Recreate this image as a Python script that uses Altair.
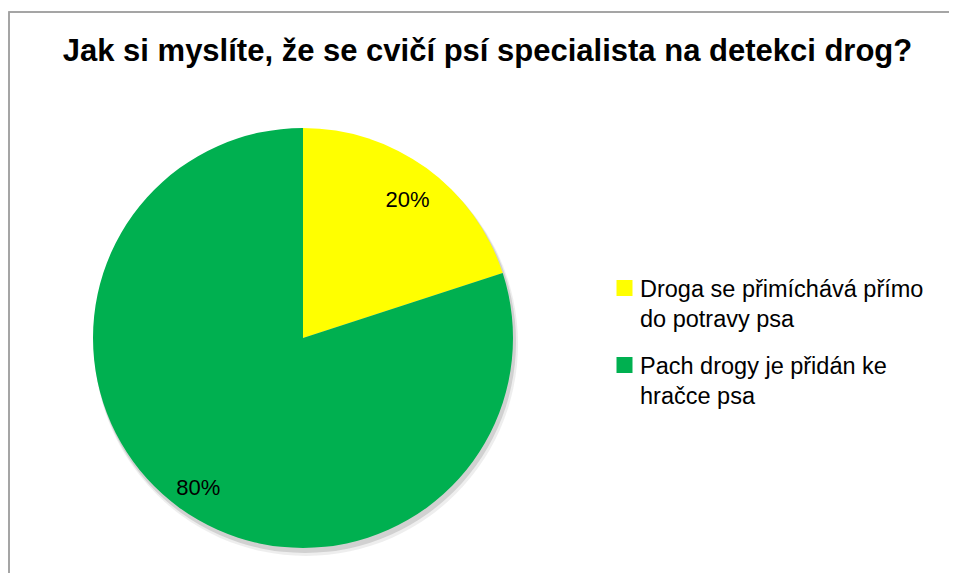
import altair as alt
import pandas as pd

title_text = "Jak si myslíte, že se cvičí psí specialista na detekci drog?"
categories = ["Droga se přimíchává přímo\ndo potravy psa", "Pach drogy je přidán ke\nhračce psa"]
values = [20, 80]
labels = ["20%", "80%"]
colors = ["#FFFF00", "#00B050"]

df = pd.DataFrame({"category": categories, "value": values, "label": labels, "idx": [0, 1]})
tdf = pd.DataFrame({"title": [title_text]})

W, H = 941, 475
CX, CY, R = 295, 240, 210

color_scale = alt.Scale(domain=categories, range=colors)

base = alt.Chart(df)

border = base.mark_rect(fill=None, stroke="#a0a0a0", strokeWidth=1.5).encode(
    x=alt.value(1), x2=alt.value(1000), y=alt.value(-86), y2=alt.value(700)
)

title = alt.Chart(tdf).mark_text(fontSize=31, font="Liberation Sans", fontWeight="bold",
                                 align="center", baseline="alphabetic", color="#000000").encode(
    x=alt.value(479.5), y=alt.value(-37), text="title:N"
)

shadow2 = base.mark_arc(radius=R + 2, color="#bbbbbb", opacity=0.25).encode(
    theta=alt.Theta("value:Q", stack=True),
    order=alt.Order("idx:Q"),
    x=alt.value(CX + 3), y=alt.value(CY + 6),
)
shadow = base.mark_arc(radius=R + 1, color="#9a9a9a", opacity=0.35).encode(
    theta=alt.Theta("value:Q", stack=True),
    order=alt.Order("idx:Q"),
    x=alt.value(CX + 2), y=alt.value(CY + 4),
)

pie = base.mark_arc(radius=R).encode(
    theta=alt.Theta("value:Q", stack=True),
    order=alt.Order("idx:Q"),
    color=alt.Color("category:N", scale=color_scale, legend=None),
    x=alt.value(CX), y=alt.value(CY),
)

pct = base.mark_text(radius=178, dy=6, fontSize=22, font="Liberation Sans", color="#000000").encode(
    theta=alt.Theta("value:Q", stack=True),
    order=alt.Order("idx:Q"),
    text="label:N",
    x=alt.value(CX), y=alt.value(CY),
)

leg_y = alt.Scale(domain=categories, range=[190, 267], padding=0)
leg_sq = base.mark_square(size=256, opacity=1).encode(
    x=alt.value(616.5),
    y=alt.Y("category:N", scale=leg_y, axis=None),
    color=alt.Color("category:N", scale=color_scale, legend=None),
)
leg_txt = base.mark_text(align="left", baseline="alphabetic", dy=9, fontSize=23.5, font="Liberation Sans",
                         lineBreak="\n", lineHeight=30, color="#000000").encode(
    x=alt.value(632),
    y=alt.Y("category:N", scale=leg_y, axis=None),
    text="category:N",
)

chart = alt.layer(border, title, shadow2, shadow, pie, pct, leg_sq, leg_txt).properties(
    width=W, height=H,
    autosize=alt.AutoSizeParams(type="none"),
    padding={"left": 0, "top": 90, "right": 0, "bottom": 0},
).configure_view(stroke=None)

chart.save("out.html", embed_options={"renderer": "svg", "actions": False})
